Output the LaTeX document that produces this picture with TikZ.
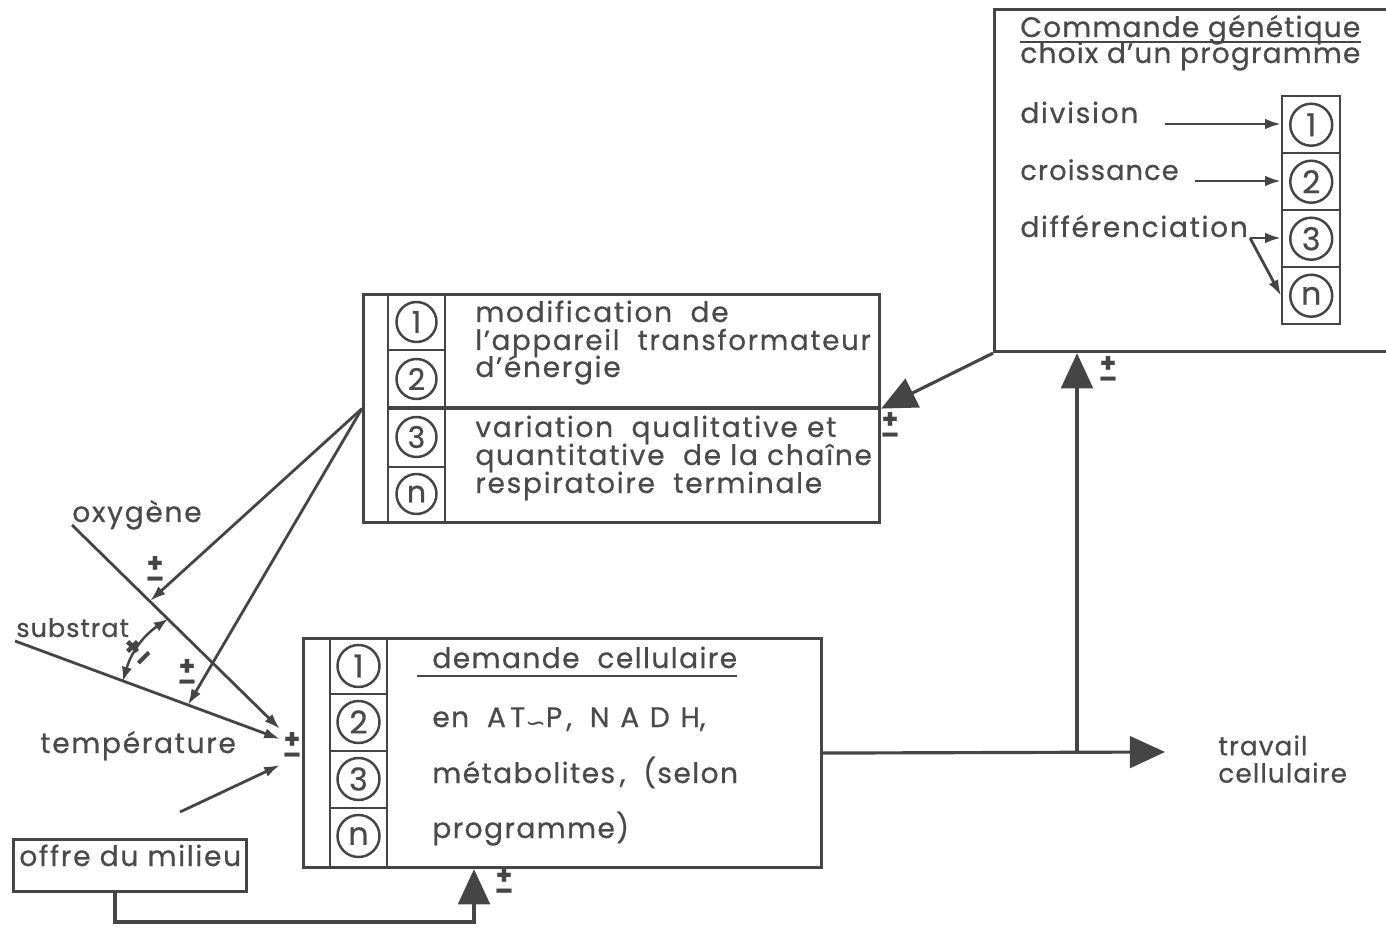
\documentclass[tikz,border=0pt]{standalone}
\usepackage{fontspec}
\setmainfont{Poppins}[LetterSpace=6, FakeBold=0.6]
\newfontfamily\dv{DejaVu Sans}
\usetikzlibrary{arrows.meta,calc}
\definecolor{ink}{HTML}{454545}
\definecolor{txt}{HTML}{4a4a4a}
\tikzset{
  box/.style={draw=ink, line width=1.8pt, rectangle, inner sep=0, anchor=north west},
  cellbox/.style={draw=ink, line width=1.4pt, rectangle, inner sep=0, anchor=north west, minimum width=58*0.02cm, minimum height=57*0.02cm},
  num/.style={circle, draw=ink, line width=1.4pt, minimum size=40*0.02cm, inner sep=0, text=txt, font=\fontsize{17}{17}\selectfont\addfontfeatures{LetterSpace=0}},
  lbl/.style={anchor=base west, inner sep=0, text=txt, font=\fontsize{16}{17}\selectfont},
  big/.style={draw=ink, line width=1.8pt, -{Triangle[length=20pt,width=18pt]}},
  small/.style={draw=ink, line width=1.6pt, -{Latex[length=9pt,width=6pt]}},
  pm/.style={inner sep=0, align=center, text=ink, font=\fontsize{15}{9}\selectfont\bfseries\addfontfeatures{LetterSpace=0}},
  thin/.style={draw=ink, line width=1.4pt}
}
\begin{document}
\begin{tikzpicture}[x=0.02cm,y=-0.02cm]
\useasboundingbox (0,0) rectangle (1386,928);

% ---------- Commande genetique box ----------
\node[box, minimum width=420*0.02cm, minimum height=342*0.02cm] (cmd) at (993,8) {};
\node[lbl, font=\fontsize{16}{16}\selectfont\addfontfeatures{LetterSpace=4}] (cg) at (1020,37) {Commande génétique};
\draw[thin, line width=1.3pt] ([yshift=-3pt]cg.base west) -- ([yshift=-3pt]cg.base east);
\node[lbl, font=\fontsize{16}{16}\selectfont\addfontfeatures{LetterSpace=4}] (choix) at (1020,63) {choix d'un programme};
\node[lbl] (ldiv) at (1020,123) {division};
\node[lbl, font=\fontsize{15.5}{16}\selectfont\addfontfeatures{LetterSpace=4}] (lcro) at (1020,180) {croissance};
\node[lbl] (ldif) at (1020,237) {différenciation};
\node[cellbox] (c1) at (1281,95) {};
\node[cellbox] (c2) at (1281,152) {};
\node[cellbox] (c3) at (1281,209) {};
\node[cellbox] (c4) at (1281,266) {};
\node[num, minimum size=42*0.02cm, font=\fontsize{18}{18}\selectfont] at (c1) {1};
\node[num, minimum size=42*0.02cm, font=\fontsize{18}{18}\selectfont] at (c2) {2};
\node[num, minimum size=42*0.02cm, font=\fontsize{18}{18}\selectfont] at (c3) {3};
\node[num, minimum size=42*0.02cm, font=\fontsize{18}{18}\selectfont] at (c4) {n};
\coordinate (dv) at (1165,124);
\coordinate (cr) at (1195,181);
\coordinate (df) at (1250,238);
\draw[small] (dv) -- (dv -| c1.west);
\draw[small] (cr) -- (cr -| c2.west);
\draw[small] (df) -- (df -| c3.west);
\draw[small] (df) -- (c4.west);

% ---------- middle box ----------
\node[box, minimum width=516*0.02cm, minimum height=228*0.02cm] (mid) at (362,293) {};
\draw[thin] (388,293) -- (388,521);
\draw[thin] (445,293) -- (445,521);
\draw[thin] (388,350) -- (445,350);
\draw[line width=1.8pt, ink] (388,408) -- (878,408);
\draw[thin] (388,467) -- (445,467);
\node[num] at (416.5,322) {1};
\node[num] at (416.5,379) {2};
\node[num] at (416.5,437) {3};
\node[num] at (416.5,494) {n};
\node[lbl] at (475,322) {modification\ \ de};
\node[lbl, font=\fontsize{15.8}{17}\selectfont] at (475,350) {l'appareil\ \ transformateur};
\node[lbl] at (475,377) {d'énergie};
\node[lbl] at (475,437) {variation\ \ qualitative\ et};
\node[lbl] at (475,465) {quantitative\ \ de la chaîne};
\node[lbl] at (475,493) {respiratoire\ \ terminale};

% ---------- demande box ----------
\node[box, minimum width=518*0.02cm, minimum height=229*0.02cm] (dem) at (302,637) {};
\draw[thin] (330,637) -- (330,866);
\draw[thin] (387,637) -- (387,866);
\draw[thin] (330,694) -- (387,694);
\draw[thin] (330,751) -- (387,751);
\draw[thin] (330,808) -- (387,808);
\node[num, minimum size=42*0.02cm, font=\fontsize{18}{18}\selectfont] at (358.5,666) {1};
\node[num, minimum size=42*0.02cm, font=\fontsize{18}{18}\selectfont] at (358.5,722) {2};
\node[num, minimum size=42*0.02cm, font=\fontsize{18}{18}\selectfont] at (358.5,779) {3};
\node[num, minimum size=42*0.02cm, font=\fontsize{18}{18}\selectfont] at (358.5,836) {n};
\node[lbl, font=\fontsize{16}{16}\selectfont\addfontfeatures{LetterSpace=5}] at (432,668) {demande\ \ cellulaire};
\draw[thin] (417,676) -- (737,676);
\node[lbl, font=\fontsize{16}{16}\selectfont\addfontfeatures{LetterSpace=5}] at (432,727) {en\ \ {\addfontfeatures{LetterSpace=15}AT\raisebox{-0.3ex}{{\dv\fontsize{14}{14}\selectfont ∽}}P,}\ \ {\addfontfeatures{LetterSpace=38}NADH},};
\node[lbl, font=\fontsize{16}{16}\selectfont\addfontfeatures{LetterSpace=5}] at (432,783) {métabolites\,,\ \ (selon};
\node[lbl, font=\fontsize{16}{16}\selectfont\addfontfeatures{LetterSpace=5}] at (432,838) {programme)};

% ---------- offre du milieu ----------
\node[box, minimum width=233*0.02cm, minimum height=52*0.02cm] (offre) at (12,838) {};
\node[lbl] at (19,866) {offre du milieu};
\coordinate (of) at (474,922);
\draw[big] ([xshift=103*0.02cm]offre.south west) |- (of) -- (of |- dem.south);
\node[pm] at (504,884) {+\\–};

% ---------- outputs ----------
\coordinate (trav) at (1165,752);
\draw[big] (dem.east) -- (trav);
\coordinate (br) at (1077,752);
\draw[big] (br) -- (br |- cmd.south);
\node[pm] at (1108,372) {+\\–};
\node[lbl, align=left, anchor=north west, font=\fontsize{15}{15.5}\selectfont\addfontfeatures{LetterSpace=4}] (travl) at (1218,735) {travail\\cellulaire};

\draw[big] (cmd.south west) -- (mid.east);
\node[pm] at (890,428) {+\\–};

% ---------- inputs ----------
\coordinate (oxs) at (72,525);
\coordinate (subs) at (15,641);
\coordinate (temps) at (180,812);
\coordinate (in1) at (280,729);
\coordinate (in2) at (280,739);
\coordinate (in3) at (280,765);
\coordinate (ox1) at (150,601);
\coordinate (sub1) at (188,705);
\coordinate (arcA) at (168,619);
\coordinate (arcB) at (123,681);
\node[lbl] at (72,522) {oxygène};
\node[lbl, font=\fontsize{14.5}{16}\selectfont\addfontfeatures{LetterSpace=4}] at (16,637) {substrat};
\node[lbl] at (40,753) {température};
\draw[small] (oxs) -- (in1);
\draw[small] (subs) -- (in2);
\draw[small] (temps) -- (in3);
\draw[small] (mid.west) -- (ox1);
\draw[small] (mid.west) -- (sub1);
\draw[draw=ink, line width=1.4pt, {Latex[length=8pt,width=6pt]}-{Latex[length=8pt,width=6pt]}] (arcA) to[bend right=20] (arcB);
\node[pm, rotate=45] at (139,653) {+\\–};
\node[pm] at (155,572) {+\\–};
\node[pm] at (187,675) {+\\–};
\node[pm] at (292,748) {+\\–};
\end{tikzpicture}
\end{document}
